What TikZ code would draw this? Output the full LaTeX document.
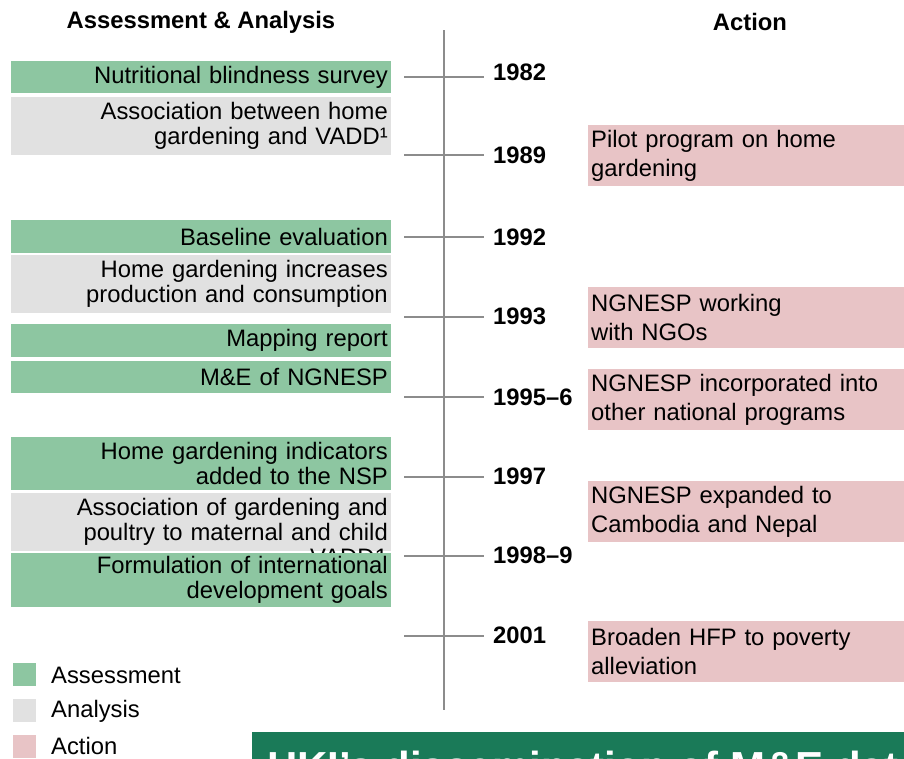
\documentclass[tikz,border=0pt]{standalone}
\usepackage{fontspec}
\setmainfont{Liberation Sans}

\definecolor{assess}{HTML}{8DC6A1}
\definecolor{analys}{HTML}{E1E1E1}
\definecolor{actn}{HTML}{E8C4C6}
\definecolor{axisgray}{HTML}{8C8C8C}
\definecolor{bannergreen}{HTML}{1A7A58}

\newcommand{\leftfont}{\fontsize{23.8}{25}\selectfont}
\newcommand{\actfont}{\fontsize{23.8}{28.5}\selectfont}

\begin{document}
\begin{tikzpicture}[
  x=1pt, y=-1pt,
  gbox/.style={fill=assess, anchor=north east, text width=374pt, align=right,
    inner xsep=3pt, inner ysep=0pt, font=\leftfont},
  abox/.style={gbox, fill=analys},
  pbox/.style={fill=actn, anchor=north west, text width=310pt, align=left,
    inner xsep=3pt, inner ysep=0pt, minimum height=61, font=\actfont},
  yr/.style={anchor=west, inner sep=0pt, font=\bfseries\leftfont},
  tck/.style={draw=axisgray, line width=2pt},
  key/.style={minimum size=23, inner sep=0pt, anchor=north west},
  keytxt/.style={anchor=west, inner sep=0pt, font=\leftfont},
]
\useasboundingbox (0,0) rectangle (904,758);
\clip (0,0) rectangle (904,758);

\node [font=\bfseries\leftfont] (hleft) at (201,22) {Assessment \& Analysis};
\node [font=\bfseries\leftfont] (hright) at (750,22) {Action};

% time axis
\coordinate (top) at (444,30);
\coordinate (bot) at (444,710);
\draw [tck] (top) -- (bot);
\draw [tck] (404,77) -- (484,77);
\draw [tck] (404,155) -- (484,155);
\draw [tck] (404,237) -- (484,237);
\draw [tck] (404,317) -- (484,317);
\draw [tck] (404,397) -- (484,397);
\draw [tck] (404,477) -- (484,477);
\draw [tck] (404,556) -- (484,556);
\draw [tck] (404,636) -- (484,636);

\node [yr] (y82) at (493,72) {1982};
\node [yr] (y89) at (493,155) {1989};
\node [yr] (y92) at (493,237) {1992};
\node [yr] (y93) at (493,316) {1993};
\node [yr] (y95) at (493,397) {1995–6};
\node [yr] (y97) at (493,476) {1997};
\node [yr] (y98) at (493,555) {1998–9};
\node [yr] (y01) at (493,635) {2001};

% assessment and analysis
\node [gbox, minimum height=32] (blind) at (391,61) {Nutritional blindness survey};
\node [abox, minimum height=58] (vadd) at (391,97) {Association between home\\gardening and VADD¹};
\node [gbox, minimum height=33] (base) at (391,220) {Baseline evaluation};
\node [abox, minimum height=58] (prod) at (391,255) {Home gardening increases\\production and consumption};
\node [gbox, minimum height=33] (mapr) at (391,324) {Mapping report};
\node [gbox, minimum height=32] (mne) at (391,361) {M\&E of NGNESP};
\node [gbox, minimum height=53] (nsp) at (391,437) {Home gardening indicators\\added to the NSP};
\node [abox, minimum height=58] (poul) at (391,493) {Association of gardening and\\poultry to maternal and child};
\node [anchor=east, inner sep=0pt, font=\leftfont] (poulx) at (388,557) {VADD1};
\node [gbox, minimum height=54] (goals) at (391,553) {Formulation of international\\development goals};

% actions
\node [pbox] (pilot) at (588,125) {Pilot program on home\\gardening};
\node [pbox] (ngos) at (588,287) {NGNESP working\\with NGOs};
\node [pbox] (natl) at (588,369) {NGNESP incorporated into\\other national programs};
\node [pbox] (expd) at (588,481) {NGNESP expanded to\\Cambodia and Nepal};
\node [pbox] (hfp) at (588,621) {Broaden HFP to poverty\\alleviation};

% legend
\node [key, fill=assess] (k1) at (13,663) {};
\node [key, fill=analys] (k2) at (13,699) {};
\node [key, fill=actn] (k3) at (13,735) {};
\node [keytxt] (t1) at (51,675) {Assessment};
\node [keytxt] (t2) at (51,711) {Analysis};
\node [keytxt] (t3) at (51,746) {Action};

\fill [bannergreen] (252,732) rectangle (910,770);
\node [anchor=base west, inner sep=0pt, text=white,
  font=\bfseries\fontsize{42}{42}\selectfont] (ban) at (267,781) {HKI's dissemination of M\&E data};

\end{tikzpicture}
\end{document}
